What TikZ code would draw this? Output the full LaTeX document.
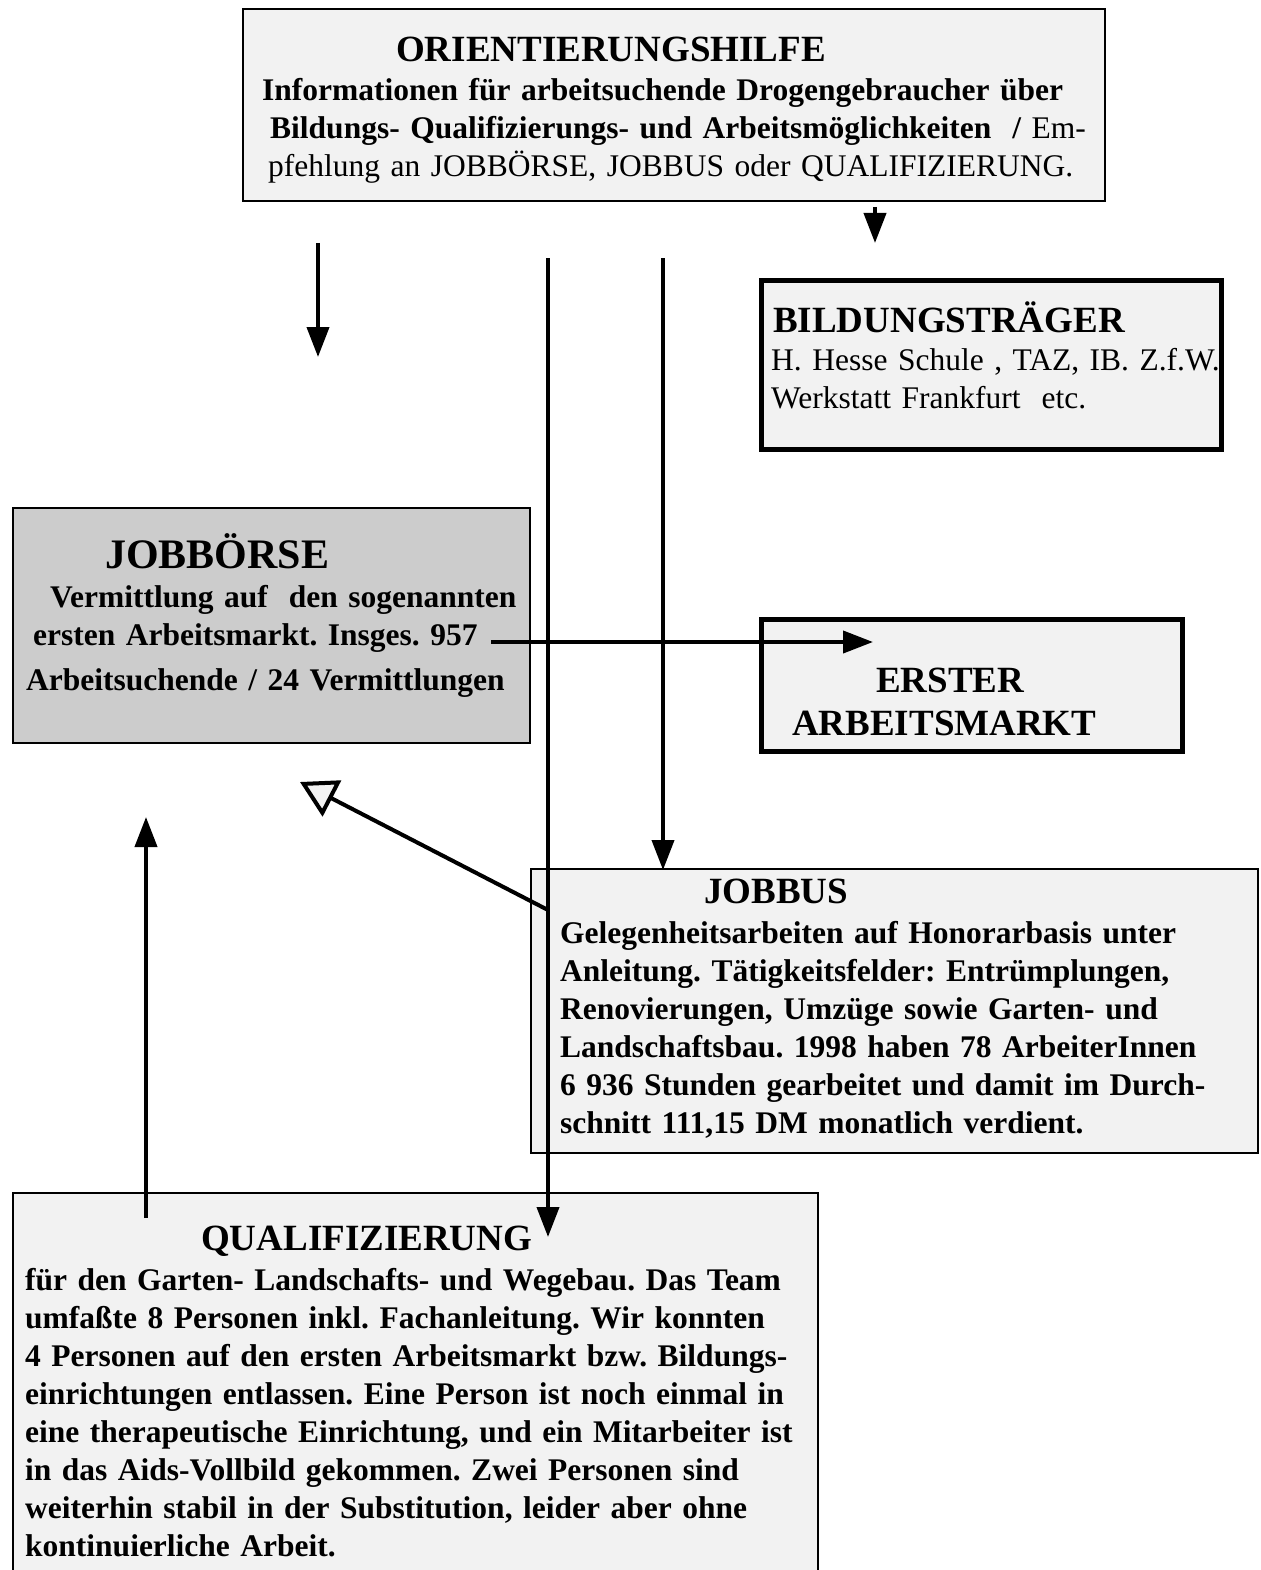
\documentclass[tikz,border=0pt]{standalone}
\usepackage{fontspec}
\setmainfont{Liberation Serif}
\usetikzlibrary{arrows.meta}
\frenchspacing
\definecolor{boxgray}{HTML}{F2F2F2}
\definecolor{boersegray}{HTML}{CCCCCC}
\tikzstyle{box} = [draw, fill=boxgray, line width=2pt, anchor=north west, inner sep=0pt]
\tikzstyle{thickbox} = [box, line width=5pt]
\tikzstyle{txt} = [anchor=base west, inner sep=0pt, align=left, text width=1000pt, font=\bfseries\fontsize{31.5}{38}\selectfont]
\tikzstyle{head} = [anchor=base west, inner sep=0pt, font=\bfseries\fontsize{37}{44}\selectfont]
\tikzstyle{flow} = [line width=4pt, -{Triangle[length=30pt,width=22pt]}]

\begin{document}
\begin{tikzpicture}[x=1pt,y=-1pt]
	\useasboundingbox (0,0) rectangle (1260,1570);
	% boxes
	\node[box, minimum width=862pt, minimum height=192pt] (orient) at (242,8) {};
	\node[thickbox, minimum width=460pt, minimum height=169pt] (bildung) at (759,278) {};
	\node[box, fill=boersegray, minimum width=517pt, minimum height=235pt] (boerse) at (12,507) {};
	\node[thickbox, minimum width=421pt, minimum height=132pt] (erster) at (759,617) {};
	\node[box, minimum width=727pt, minimum height=284pt] (jobbus) at (530,868) {};
	\node[box, minimum width=805pt, minimum height=400pt] (quali) at (12,1192) {};
	% texts
	\node[head] (orient-t) at (396,62) {ORIENTIERUNGSHILFE};
	\node[txt] (orient-b) at (262,101) {Informationen für arbeitsuchende Drogengebraucher über\\
		\hspace*{8pt}Bildungs- Qualifizierungs- und Arbeitsmöglichkeiten\ \ /\ \mdseries Em-\\
		\hspace*{6pt}\mdseries pfehlung an JOBBÖRSE, JOBBUS oder QUALIFIZIERUNG.};
	\node[head] (bildung-t) at (773,332) {BILDUNGSTRÄGER};
	\node[txt, font=\fontsize{31.5}{38}\selectfont] (bildung-b) at (771,370) {H. Hesse Schule , TAZ, IB. Z.f.W.\\
		Werkstatt Frankfurt\ \ etc.};
	\node[head, font=\bfseries\fontsize{42}{50}\selectfont] (boerse-t) at (105,568) {JOBBÖRSE};
	\node[txt] (boerse-b) at (26,607) {\hspace*{24pt}Vermittlung auf\ \ den sogenannten\\
		\hspace*{7pt}ersten Arbeitsmarkt. Insges. 957\\[7pt]
		Arbeitsuchende / 24 Vermittlungen};
	\node[head] (erster-t) at (876,692) {ERSTER};
	\node[head] (erster-b) at (792,735) {ARBEITSMARKT};
	\node[head] (jobbus-t) at (704,903) {JOBBUS};
	\node[txt] (jobbus-b) at (560,943) {Gelegenheitsarbeiten auf Honorarbasis unter\\
		Anleitung. Tätigkeitsfelder: Entrümplungen,\\
		Renovierungen, Umzüge sowie Garten- und\\
		Landschaftsbau. 1998 haben 78 ArbeiterInnen\\
		6 936 Stunden gearbeitet und damit im Durch-\\
		schnitt 111,15 DM monatlich verdient.};
	\node[head] (quali-t) at (201,1250) {QUALIFIZIERUNG};
	\node[txt] (quali-b) at (25,1290) {für den Garten- Landschafts- und Wegebau. Das Team\\
		umfaßte 8 Personen inkl. Fachanleitung. Wir konnten\\
		4 Personen auf den ersten Arbeitsmarkt bzw. Bildungs-\\
		einrichtungen entlassen. Eine Person ist noch einmal in\\
		eine therapeutische Einrichtung, und ein Mitarbeiter ist\\
		in das Aids-Vollbild gekommen. Zwei Personen sind\\
		weiterhin stabil in der Substitution, leider aber ohne\\
		kontinuierliche Arbeit.};
	% arrow ends
	\coordinate (to-bildung-s) at (875,207);
	\coordinate (to-bildung-e) at (875,243);
	\coordinate (to-boerse-s) at (318,243);
	\coordinate (to-boerse-e) at (318,357);
	\coordinate (to-quali-s) at (548,258);
	\coordinate (to-quali-e) at (548,1237);
	\coordinate (to-jobbus-s) at (663,258);
	\coordinate (to-jobbus-e) at (663,870);
	\coordinate (to-erster-s) at (491,642);
	\coordinate (to-erster-e) at (873,642);
	\coordinate (bus-back-s) at (548,910);
	\coordinate (bus-back-e) at (300,782);
	\coordinate (quali-back-s) at (146,1218);
	\coordinate (quali-back-e) at (146,817);
	% arrows
	\draw[flow] (to-bildung-s) -- (to-bildung-e);
	\draw[flow] (to-boerse-s) -- (to-boerse-e);
	\draw[flow] (to-quali-s) -- (to-quali-e);
	\draw[flow] (to-jobbus-s) -- (to-jobbus-e);
	\draw[flow] (to-erster-s) -- (to-erster-e);
	\draw[line width=4pt, -{Triangle[open,fill=boxgray,length=36pt,width=40pt]}] (bus-back-s) -- (bus-back-e);
	\draw[flow] (quali-back-s) -- (quali-back-e);
\end{tikzpicture}
\end{document}
